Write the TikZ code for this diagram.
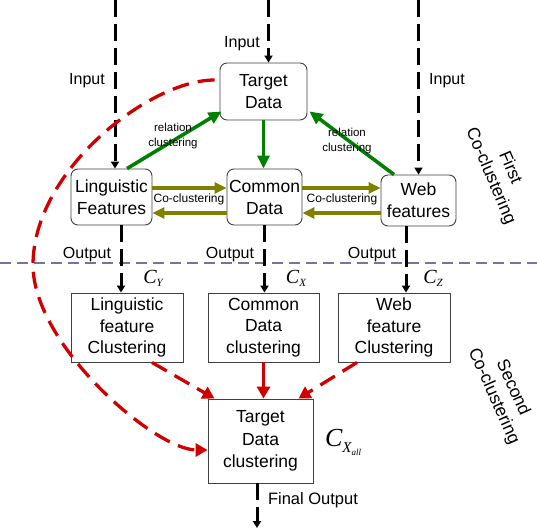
\documentclass[tikz,border=0pt]{standalone}
\usepackage{fontspec}
\setmainfont{Liberation Sans}
\newfontfamily\tnr{Liberation Serif}
\usetikzlibrary{arrows.meta,calc}
\definecolor{grn}{HTML}{008000}
\definecolor{olv}{HTML}{808000}
\definecolor{rd}{HTML}{D00000}
\definecolor{lav}{HTML}{7474A4}
\begin{document}
\begin{tikzpicture}[x=1pt,y=-1pt,
  rbox/.style={draw=black!75, line width=0.9pt, rounded corners=7pt, fill=white, align=center, inner sep=0pt, font=\fontsize{17.5}{22}\selectfont},
  sbox/.style={draw=black!75, line width=0.9pt, fill=white, align=center, inner sep=0pt, font=\fontsize{17.5}{21.5}\selectfont},
  lbl/.style={font=\fontsize{16}{19}\selectfont, inner sep=0pt},
  small/.style={font=\fontsize{11.5}{15}\selectfont, inner sep=0pt, align=center},
  cl/.style={font=\fontsize{12}{14}\selectfont, inner sep=0pt},
  side/.style={font=\fontsize{17.5}{21}\selectfont, inner sep=0pt, align=center},
  bdash/.style={line width=3pt, dash pattern=on 17pt off 7pt, -{Triangle[length=7pt,width=8pt]}},
  garrow/.style={draw=grn, line width=3.6pt, -{Triangle[length=13pt,width=12pt]}},
  oarrow/.style={draw=olv, line width=3.6pt, -{Triangle[length=12pt,width=11pt]}},
  rdash/.style={draw=rd, line width=3.3pt, dash pattern=on 17pt off 9pt, -{Triangle[length=12pt,width=13pt]}},
  cfont/.style={font=\tnr\itshape, inner sep=0pt},
]
\useasboundingbox (0,0) rectangle (537,529);

% separator
\draw[lav, line width=2.2pt, dash pattern=on 11pt off 6pt] (0,263) -- (537,263);

% boxes
\node[rbox, minimum width=87pt, minimum height=57pt] (td) at (263.5,91.5) {Target\\Data};
\node[rbox, minimum width=81pt, minimum height=56pt] (lf) at (111.5,197) {Linguistic\\Features};
\node[rbox, minimum width=75pt, minimum height=56pt] (cd) at (264.5,197) {Common\\Data};
\node[rbox, minimum width=75pt, minimum height=51pt] (wf) at (418.5,200.5) {Web\\features};
\node[sbox, minimum width=112pt, minimum height=69pt] (lfc) at (127,327.5) {Linguistic\\feature\\Clustering};
\node[sbox, minimum width=111pt, minimum height=69pt] (cdc) at (263.5,327.5) {Common\\Data\\clustering};
\node[sbox, minimum width=112pt, minimum height=69pt] (wfc) at (394,327.5) {Web\\feature\\Clustering};
\node[sbox, minimum width=105pt, minimum height=84pt, font=\fontsize{17.5}{22.5}\selectfont] (tdc) at (260.5,441) {Target\\Data\\clustering};

% inputs
\coordinate (inL) at (115,0);
\coordinate (inC) at (268.5,0);
\coordinate (inR) at (418.5,0);
\draw[bdash] (inL) -- (inL |- lf.north);
\draw[bdash] (inC) -- (inC |- td.north);
\draw[bdash] (inR) -- (inR |- wf.north);

% outputs
\coordinate (oL) at ($(lf.south)+(9.5,0)$);
\coordinate (oR) at ($(wf.south)+(-12.5,0)$);
\draw[bdash] (oL) -- (oL |- lfc.north);
\draw[bdash] (cd.south) -- (cd.south |- cdc.north);
\draw[bdash] (oR) -- (oR |- wfc.north);
\coordinate (fo) at ($(tdc.south)+(-3.5,0)$);
\coordinate (foEnd) at (257,528);
\draw[bdash] (fo) -- (fo |- foEnd);

% green relation arrows
\draw[garrow] ($(lf.north)+(15.5,0)$) -- ($(td.south west)+(2,-9)$);
\draw[garrow] ($(wf.north)+(-24.5,0)$) -- ($(td.south east)+(2,-9)$);
\draw[garrow] (td.south) -- (td.south |- cd.north);

% olive co-clustering arrows
\draw[oarrow] ($(lf.east)+(0,-9)$) -- ($(cd.west)+(0,-9)$);
\draw[oarrow] ($(cd.west)+(0,16)$) -- ($(lf.east)+(0,16)$);
\draw[oarrow] ($(cd.east)+(0,-9)$) -- ($(wf.west)+(0,-12.5)$);
\draw[oarrow] ($(wf.west)+(0,12.5)$) -- ($(cd.east)+(0,16)$);

% red arrows
\draw[rdash] ($(td.west)+(-5,-11.5)$) .. controls (150,80) and (33,170) .. (33,265)
   .. controls (33,345) and (155,450) .. ($(tdc.west)+(0,9)$);
\draw[rdash] ($(lfc.south)+(25,0)$) -- ($(tdc.north west)+(7,0)$);
\draw[rdash, dash pattern=on 30pt off 0pt] (cdc.south) -- (cdc.south |- tdc.north);
\draw[rdash] ($(wfc.south)+(-37,0)$) -- ($(tdc.north east)+(-15,0)$);

% labels
\node[lbl] (l1) at (242,44) {Input};
\node[lbl] (l2) at (87,81) {Input};
\node[lbl] (l3) at (447,81) {Input};
\node[lbl] (o1) at (87,255) {Output};
\node[lbl] (o2) at (230,255) {Output};
\node[lbl] (o3) at (372,255) {Output};
\node[lbl, font=\fontsize{16.5}{19}\selectfont] (fol) at (313,500) {Final Output};
\node[small] (rc1) at (173,136) {relation\\clustering};
\node[small] (rc2) at (347,141) {relation\\clustering};
\node[cl] (cc1) at (189,199) {Co-clustering};
\node[cl] (cc2) at (342,199) {Co-clustering};
\node[side, rotate=-67] (fc) at (500,172) {First\\Co-clustering};
\node[side, rotate=-66] (sc) at (503,392) {Second\\Co-clustering};

% cluster symbols
\node[cfont] (cy) at (153,278) {\fontsize{20}{20}\selectfont C\raisebox{-3pt}{\fontsize{11}{11}\selectfont Y}};
\node[cfont] (cx) at (296,278) {\fontsize{20}{20}\selectfont C\raisebox{-3pt}{\fontsize{11}{11}\selectfont X}};
\node[cfont] (cz) at (433,278) {\fontsize{20}{20}\selectfont C\raisebox{-3pt}{\fontsize{11}{11}\selectfont Z}};
\node[cfont] (cxa) at (343,442) {\fontsize{26}{26}\selectfont C\raisebox{-6pt}{\fontsize{15}{15}\selectfont X\raisebox{-3pt}{\fontsize{9}{9}\selectfont all}}};
\end{tikzpicture}
\end{document}
